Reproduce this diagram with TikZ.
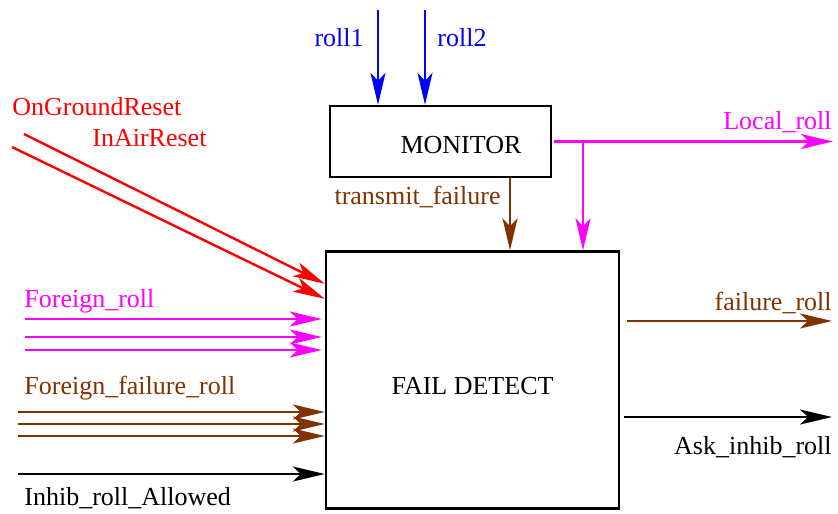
\documentclass[tikz,border=0pt]{standalone}
\usepackage{fontspec}
\setmainfont{Liberation Serif}
\usetikzlibrary{arrows.meta,positioning}
\definecolor{fbrown}{RGB}{130,50,0}
\definecolor{fmagenta}{RGB}{255,0,255}

\begin{document}
\begin{tikzpicture}[x=0.5pt, y=-0.5pt,
    every node/.style={font=\fontsize{13}{15}\selectfont, inner sep=0pt},
    sig/.style={line width=1.2pt, -{Stealth[length=16pt, width=7.5pt, inset=4pt]}},
    blk/.style={draw, line width=1.2pt, inner sep=0pt}]
            \useasboundingbox (0,0) rectangle (838,513);

            % Blocks
            \node[blk, minimum width=110.5pt, minimum height=35.5pt] (monitor) at (440.5,141.5) {};
            \node[blk, minimum width=146.5pt, minimum height=128.5pt] (detect) at (472.5,380) {};
            \node[anchor=base] (monlbl) at (461,154) {MONITOR};
            \node[anchor=base] (detlbl) at (472.5,394) {FAIL DETECT};

            % Inputs to monitor
            \coordinate (r1) at (378,10);
            \coordinate (r2) at (425,10);
            \draw[sig, blue] (r1) -- (r1 |- monitor.north);
            \draw[sig, blue] (r2) -- (r2 |- monitor.north);
            \node[blue, anchor=base east] (r1lbl) at (364,47) {roll1};
            \node[blue, anchor=base west] (r2lbl) at (437,47) {roll2};

            % Monitor outputs
            \coordinate (lr) at (833,141.5);
            \coordinate (br) at (583,141.5);
            \coordinate (tf) at (510,177);
            \draw[sig, fmagenta] ([xshift=1pt]monitor.east) -- (lr);
            \draw[sig, fmagenta] (br) -- (br |- detect.north);
            \draw[sig, fbrown] (tf |- monitor.south) -- (tf |- detect.north);
            \node[fmagenta, anchor=base east] (lrlbl) at (832,130) {Local\_roll};
            \node[fbrown, anchor=base east] (tflbl) at (501,204) {transmit\_failure};

            % Reset inputs
            \coordinate (og) at (24,134);
            \coordinate (ia) at (12,147);
            \draw[sig, red] (og) -- ([yshift=-16.75pt]detect.north west);
            \draw[sig, red] (ia) -- ([yshift=-24.25pt]detect.north west);
            \node[red, anchor=base west] (oglbl) at (12,116) {OnGroundReset};
            \node[red, anchor=base west] (ialbl) at (92,147) {InAirReset};

            % Foreign roll
            \foreach \y [count=\i] in {319,337,350} {
                \coordinate (fr\i) at (25,\y);
                \draw[sig, fmagenta] (fr\i) -- ([xshift=-1.5pt]fr\i -| detect.west);
            }
            \node[fmagenta, anchor=base west] (frlbl) at (24,307) {Foreign\_roll};

            % Foreign failure roll
            \foreach \y [count=\i] in {412,424,436} {
                \coordinate (ff\i) at (18,\y);
                \draw[sig, fbrown] (ff\i) -- (ff\i -| detect.west);
            }
            \node[fbrown, anchor=base west] (fflbl) at (24,394) {Foreign\_failure\_roll};

            % Inhib allowed
            \coordinate (ih) at (18,474);
            \draw[sig] (ih) -- (ih -| detect.west);
            \node[anchor=base west] (ihlbl) at (24,505) {Inhib\_roll\_Allowed};

            % Outputs
            \coordinate (fo) at (832,321);
            \coordinate (ao) at (832,417);
            \draw[sig, fbrown] ([xshift=3.5pt]detect.east |- fo) -- (fo);
            \draw[sig] ([xshift=2pt]detect.east |- ao) -- (ao);
            \node[fbrown, anchor=base east] (folbl) at (832,310) {failure\_roll};
            \node[anchor=base east] (aolbl) at (832,454) {Ask\_inhib\_roll};
        \end{tikzpicture}
\end{document}
